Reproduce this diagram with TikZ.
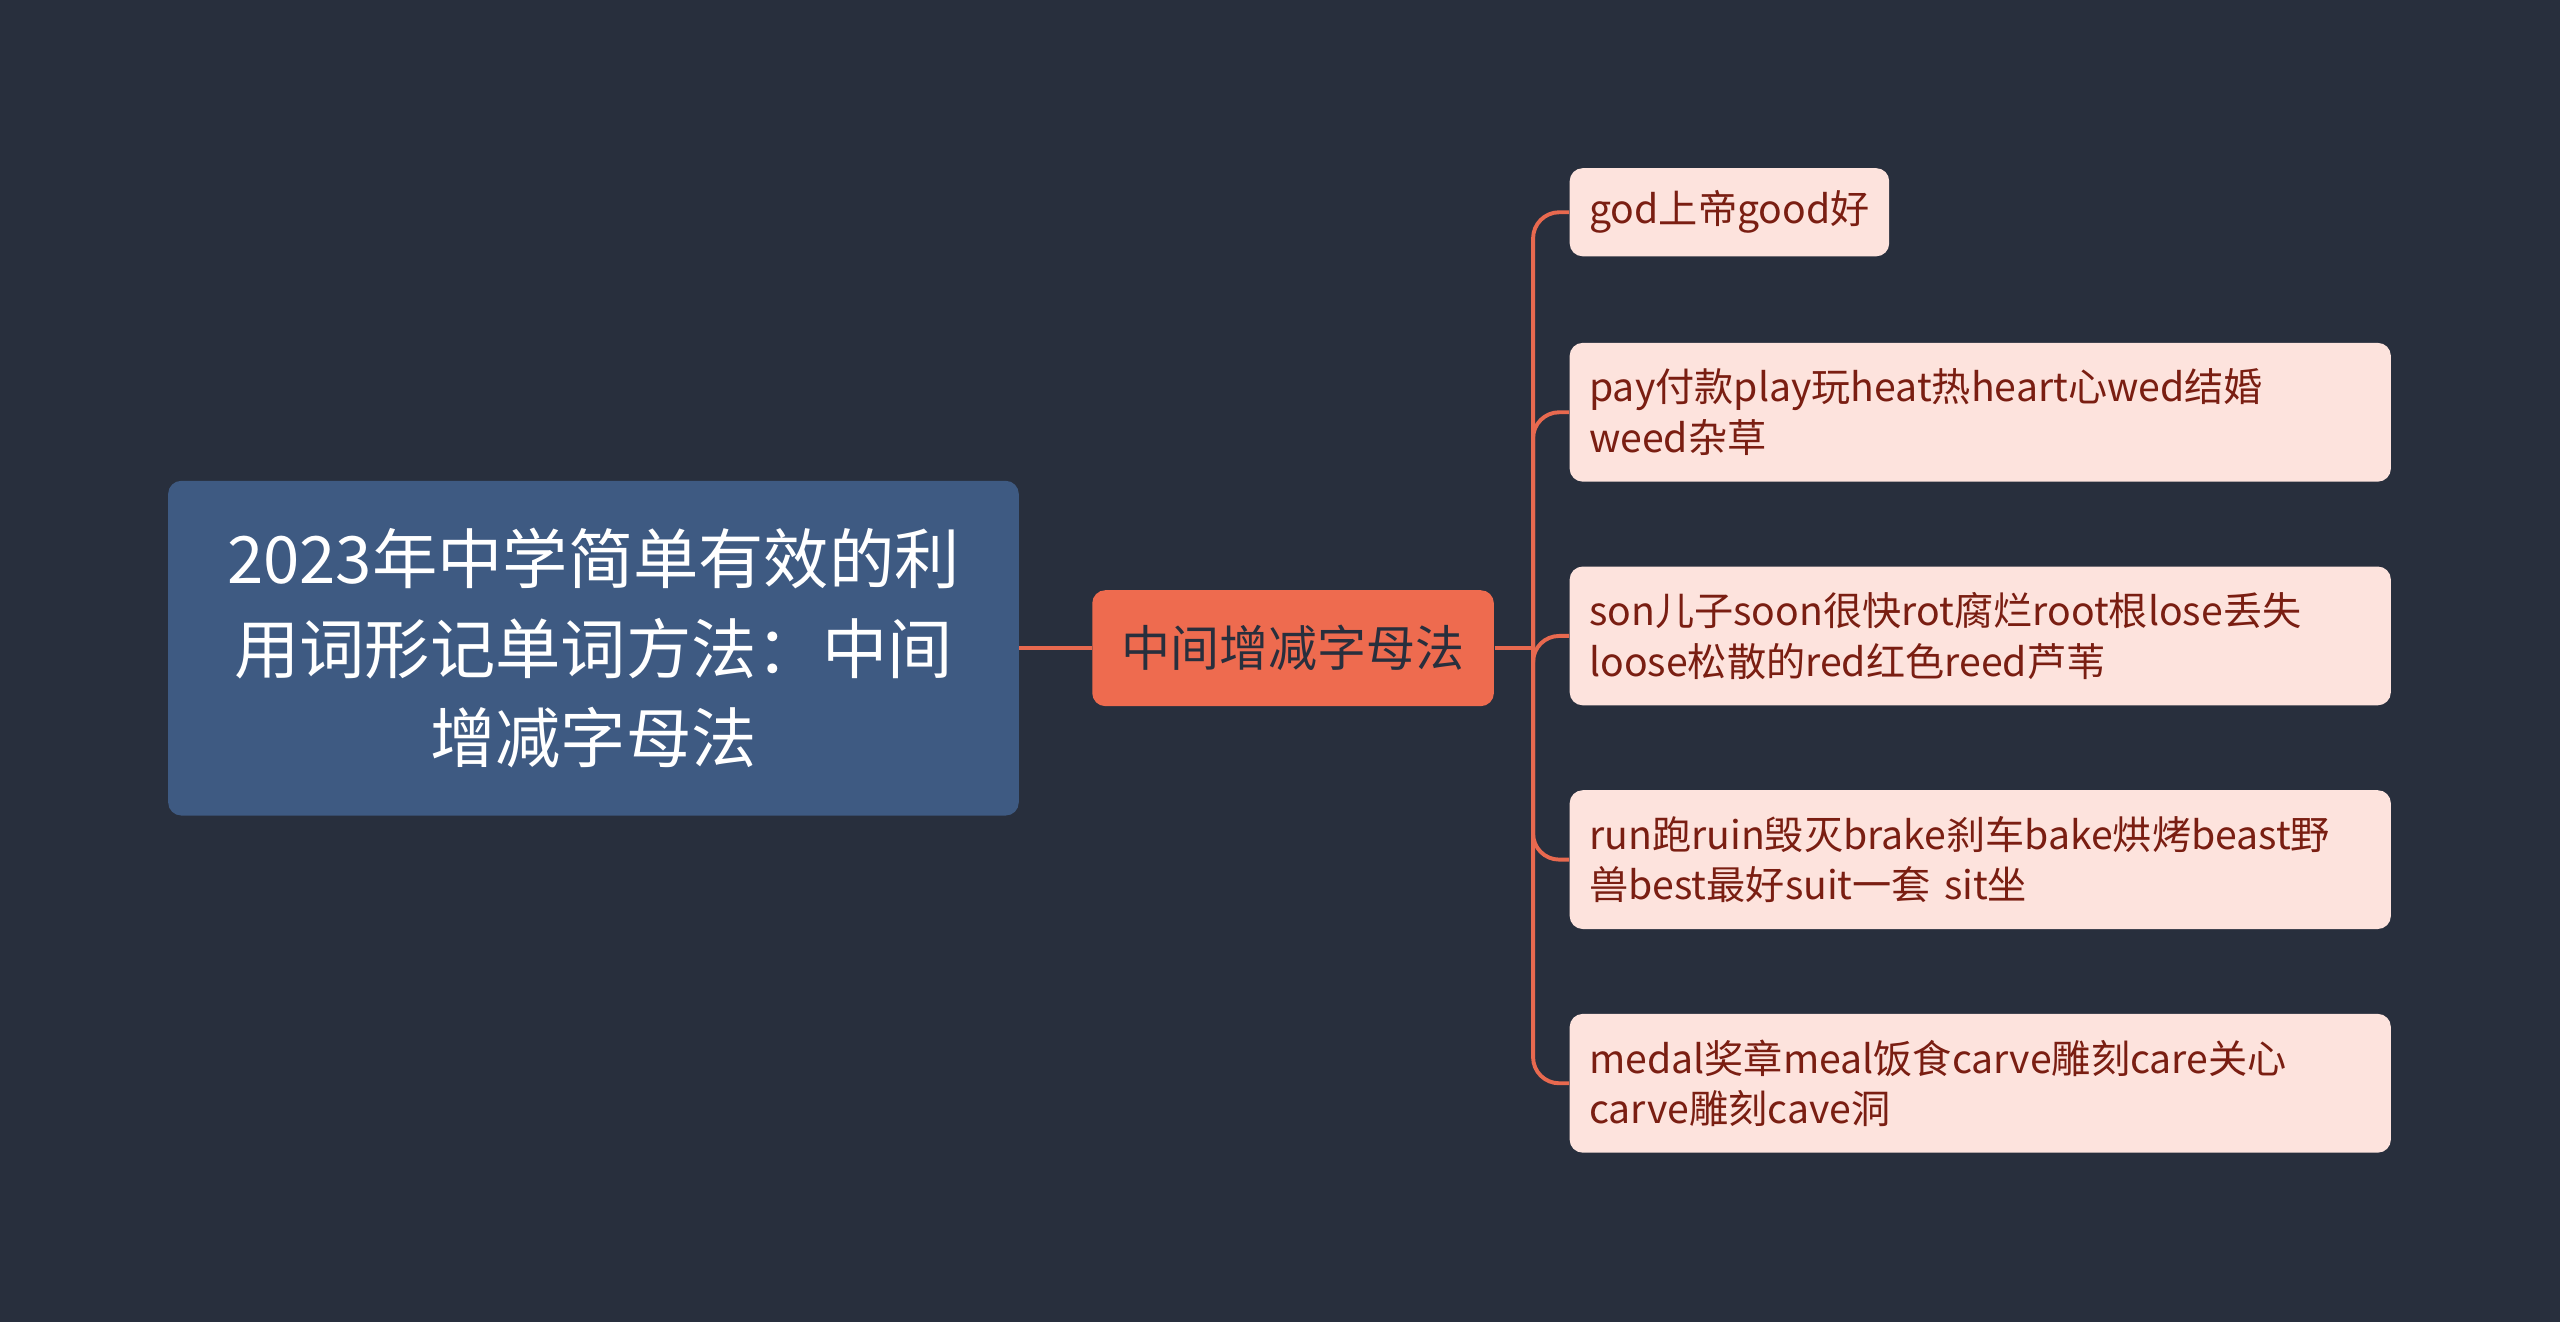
\documentclass[tikz,border=0pt]{standalone}
\usepackage{fontspec}
\setmainfont{Noto Sans CJK SC}
\usetikzlibrary{positioning}
\definecolor{bgdark}{HTML}{282F3D}
\definecolor{rootblue}{HTML}{3E5A82}
\definecolor{midred}{HTML}{EE6B4F}
\definecolor{leafpink}{HTML}{FDE3DD}
\definecolor{leaftext}{HTML}{7A1E12}
\definecolor{linkred}{HTML}{E8694F}
\begin{document}
\begin{tikzpicture}
    [
    x=0.5pt,y=-0.5pt,
    rootbox/.style={fill=rootblue,rounded corners=4pt,text=white,align=center,
      minimum width=260.5pt,minimum height=102.5pt,font=\fontsize{20}{27.5}\selectfont},
    midbox/.style={fill=midred,rounded corners=4pt,text=bgdark,
      minimum width=123pt,minimum height=35.5pt,font=\fontsize{15}{18}\selectfont},
    leaf/.style={fill=leafpink,rounded corners=4pt,text=leaftext,anchor=west,align=left,
      inner xsep=6pt,font=\fontsize{12}{15.5}\selectfont},
    wideleaf/.style={leaf,text width=239.5pt,minimum height=42.5pt},
    link/.style={draw=linkred,line width=1.2pt,rounded corners=8pt}
    ]
    \fill[bgdark] (0,0) rectangle (1568,810);
    \node (root) at (363.5,397) [rootbox] {2023年中学简单有效的利\\用词形记单词方法：中间\\增减字母法};
    \node (mid) at (792,397) [midbox] {中间增减字母法};
    \coordinate (trunk) at (939,397);

    \node (leaf1) at (961,130) [leaf,minimum height=27pt] {god上帝good好};
    \node (leaf2) at (961,252.5) [wideleaf] {pay付款play玩heat热heart心wed结婚\\weed杂草};
    \node (leaf3) at (961,389.5) [wideleaf] {son儿子soon很快rot腐烂root根lose丢失\\loose松散的red红色reed芦苇};
    \node (leaf4) at (961,526.5) [wideleaf] {run跑ruin毁灭brake刹车bake烘烤beast野\\兽best最好suit一套 sit坐};
    \node (leaf5) at (961,663.5) [wideleaf] {medal奖章meal饭食carve雕刻care关心\\carve雕刻cave洞};

    \draw [link] (root.east) -- (mid.west);
    \draw [link] (mid.east) -- (trunk);
    \foreach \n in {1,...,5}
      \draw [link] (trunk) |- (leaf\n.west);
  \end{tikzpicture}
\end{document}
